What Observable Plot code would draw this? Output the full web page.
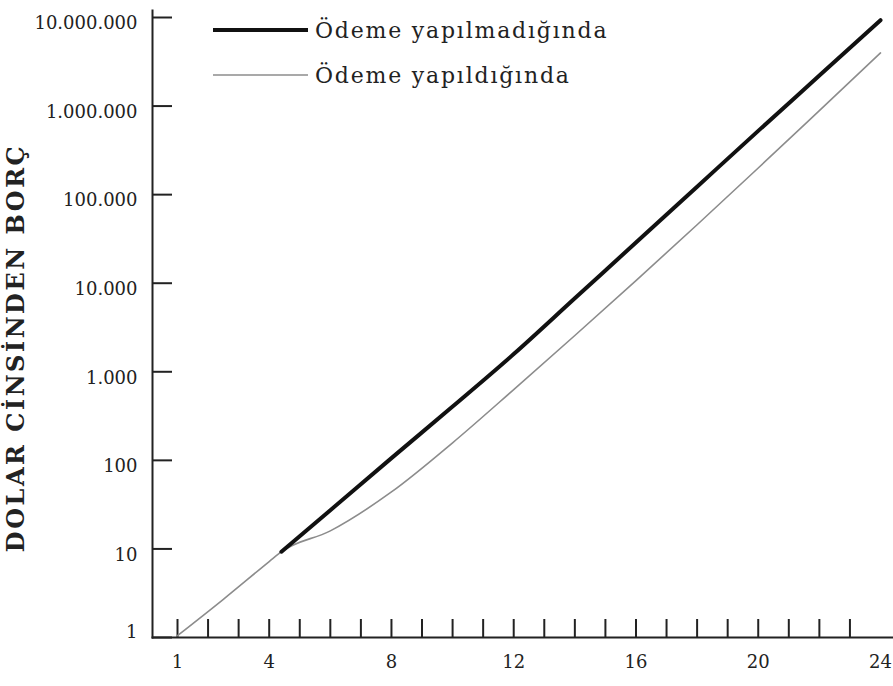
<!DOCTYPE html>
<html>
<head>
<meta charset="utf-8">
<script src="https://cdn.jsdelivr.net/npm/d3@7"></script>
<script src="https://cdn.jsdelivr.net/npm/@observablehq/plot@0.6"></script>
<style>
  body { margin: 0; background: #fff; }
  #wrap { position: relative; width: 893px; height: 686px; background: #fff; }
  .leg { position: absolute; left: 213px; height: 24px; display: flex; align-items: center;
         font-family: "DejaVu Serif", serif; font-size: 22px; letter-spacing: 1.8px; color: #222; white-space: nowrap; }
  .leg svg { margin-right: 7px; }
</style>
</head>
<body>
<div id="wrap"></div>
<script>
// ---- data ----
const seriesNames = ["Ödeme yapılmadığında", "Ödeme yapıldığında"];
const yTitle = "DOLAR CİNSİNDEN BORÇ";

// unpaid (thick black)
const xUnpaid = [4.4, 6, 8, 10, 12, 14, 16, 18, 20, 22, 24];
const vUnpaid = [9.3, 27.4, 106, 405, 1585, 6760, 28800, 123000, 525000, 2210000, 9330000];

// paid (thin gray)
const xPaid = [1, 2.5, 4, 4.4, 6, 8, 10, 12, 14, 16, 18, 20, 22, 24];
const vPaid = [1.05, 2.7, 7.2, 9.3, 16, 44, 158, 630, 2570, 10700, 45700, 200000, 890000, 3980000];

const yTicks = [1, 10, 100, 1000, 10000, 100000, 1000000, 10000000];
const yTickLabels = ["1", "10", "100", "1.000", "10.000", "100.000", "1.000.000", "10.000.000"];
const xTickLabels = [1, 4, 8, 12, 16, 20, 24];
const xTickMarks = [1, 2, 3, 4, 5, 6, 7, 8, 9, 10, 11, 12, 13, 14, 15, 16, 17, 18, 19, 20, 21, 22, 23];

// ---- build ----
const unpaid = xUnpaid.map((x, i) => ({x, v: vUnpaid[i]}));
const paid = xPaid.map((x, i) => ({x, v: vPaid[i]}));

const W = 893, H = 686, mL = 152, mR = 0, mT = 10, mB = 49;
const yLab = d => yTickLabels[yTicks.indexOf(d)];

const chart = Plot.plot({
  width: W, height: H,
  marginLeft: mL, marginRight: mR, marginTop: mT, marginBottom: mB,
  style: {fontFamily: '"DejaVu Serif", serif', fontSize: "18px", color: "#222", background: "#fff"},
  x: {domain: [1, 24], range: [177, 880]},
  y: {type: "log", domain: [1, 1e7], range: [H - mB, 17]},
  marks: [
    Plot.frame({anchor: "left", stroke: "#222", strokeWidth: 2}),
    Plot.frame({anchor: "bottom", stroke: "#222", strokeWidth: 2}),
    Plot.tickY(yTicks, {y: d => d, stroke: "#222", strokeWidth: 2, insetRight: W - mL - mR - 20}),
    Plot.tickX(xTickMarks, {x: d => d, stroke: "#222", strokeWidth: 2, insetTop: (H - mT - mB) - 18}),
    Plot.axisY({ticks: yTicks.filter(d => d > 1), tickFormat: yLab, tickSize: 0, tickPadding: 15, dy: 6, label: null}),
    Plot.axisY({ticks: [1], tickFormat: yLab, tickSize: 0, tickPadding: 15, dy: -5, label: null}),
    Plot.axisX({ticks: xTickLabels, tickFormat: d => String(d), tickSize: 0, tickPadding: 18, label: null}),
    Plot.line(paid, {x: "x", y: "v", stroke: "#8c8c8c", strokeWidth: 1.6, curve: "monotone-x"}),
    Plot.line(unpaid, {x: "x", y: "v", stroke: "#111", strokeWidth: 4, curve: "monotone-x", strokeLinecap: "round"}),
    Plot.text([yTitle], {frameAnchor: "left", textAnchor: "middle", rotate: -90, dx: -136, dy: 24, fontSize: 24, fontWeight: "bold", fill: "#222"})
  ]
});

d3.select(chart).selectAll("text").filter(function() { return this.textContent === yTitle; })
  .attr("letter-spacing", "2.5");

const wrap = document.getElementById("wrap");
wrap.appendChild(chart);

const legStyles = [{stroke: "#111", width: 4, top: 18}, {stroke: "#8c8c8c", width: 1.6, top: 63}];
seriesNames.forEach((name, i) => {
  const s = legStyles[i];
  const div = document.createElement("div");
  div.className = "leg";
  div.style.top = s.top + "px";
  div.innerHTML = `<svg width="95" height="12"><line x1="0" x2="95" y1="6" y2="6" stroke="${s.stroke}" stroke-width="${s.width}"/></svg>`;
  const span = document.createElement("span");
  span.textContent = name;
  div.appendChild(span);
  wrap.appendChild(div);
});
</script>
</body>
</html>
